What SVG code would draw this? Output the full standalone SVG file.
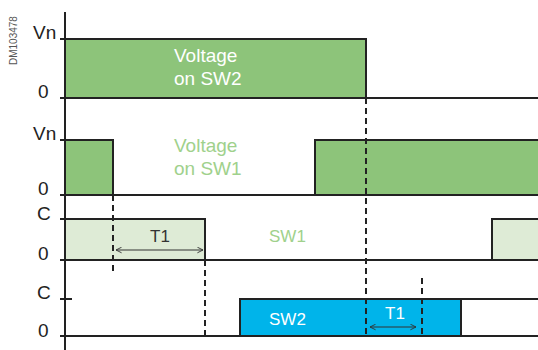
<svg xmlns="http://www.w3.org/2000/svg" width="538" height="350" viewBox="0 0 538 350">
<defs>
<marker id="ah" viewBox="0 0 10 10" refX="9" refY="5" markerWidth="7" markerHeight="7" orient="auto-start-reverse" markerUnits="userSpaceOnUse">
<path d="M1,1 L9,5 L1,9" fill="none" stroke="#333" stroke-width="1.3"/>
</marker>
</defs>
<style>
.ln{stroke:#222;stroke-width:2;fill:none}
.sig{stroke:#222;stroke-width:2}
.dash{stroke:#222;stroke-width:2;stroke-dasharray:6 4;fill:none}
.lbl{font-family:"Liberation Sans",Arial,sans-serif;font-size:19px;fill:#222}
.t{font-family:"Liberation Sans",Arial,sans-serif}
.arr{stroke:#333;stroke-width:1;fill:none;marker-start:url(#ah);marker-end:url(#ah)}
</style>
<rect width="538" height="350" fill="#fff"/>
<text transform="translate(17,65) rotate(-90)" class="t" font-size="10" fill="#555">DM103478</text>

<g id="axis">
<line class="ln" x1="65" y1="12" x2="65" y2="350"/>
<text class="lbl" x="33" y="39">Vn</text>
<text class="lbl" x="38" y="98">0</text>
<text class="lbl" x="33" y="140">Vn</text>
<text class="lbl" x="38" y="195">0</text>
<text class="lbl" x="37" y="220">C</text>
<text class="lbl" x="38" y="260">0</text>
<text class="lbl" x="37" y="299">C</text>
<text class="lbl" x="38" y="337">0</text>
</g>

<g id="sw2-voltage">
<rect class="sig" x="65" y="39" width="301" height="59" fill="#8dc47a"/>
<line class="ln" x1="60" y1="39" x2="65" y2="39"/>
<line class="ln" x1="60" y1="98" x2="538" y2="98"/>
<text class="t" font-size="19" fill="#fff" x="174" y="62">Voltage</text>
<text class="t" font-size="19" fill="#fff" x="174" y="85">on SW2</text>
</g>

<g id="sw1-voltage">
<rect class="sig" x="65" y="140" width="48" height="55" fill="#8dc47a"/>
<rect class="sig" x="315" y="140" width="230" height="55" fill="#8dc47a"/>
<line class="ln" x1="60" y1="140" x2="65" y2="140"/>
<line class="ln" x1="60" y1="195" x2="538" y2="195"/>
<text class="t" font-size="19" fill="#a0d18c" x="174" y="152">Voltage</text>
<text class="t" font-size="19" fill="#a0d18c" x="174" y="175">on SW1</text>
</g>

<g id="sw1">
<rect class="sig" x="65" y="219" width="140" height="41" fill="#deebd6"/>
<rect class="sig" x="492" y="219" width="60" height="41" fill="#deebd6"/>
<line class="ln" x1="60" y1="219" x2="65" y2="219"/>
<line class="ln" x1="60" y1="260" x2="538" y2="260"/>
<text class="t" font-size="17" fill="#a0d18c" x="269" y="242">SW1</text>
</g>

<g id="sw2">
<rect class="sig" x="240" y="299" width="221" height="37" fill="#00b4ea"/>
<line class="ln" x1="461" y1="299" x2="538" y2="299"/>
<line class="ln" x1="60" y1="299" x2="72" y2="299"/>
<line class="ln" x1="60" y1="336" x2="538" y2="336"/>
<text class="t" font-size="17" fill="#fff" x="269" y="325">SW2</text>
</g>

<g id="connectors">
<line class="dash" x1="113" y1="195" x2="113" y2="272"/>
<line class="dash" x1="205" y1="260" x2="205" y2="336"/>
<line class="dash" x1="366" y1="98" x2="366" y2="336"/>
<line class="dash" x1="422" y1="278" x2="422" y2="336"/>
<line class="arr" x1="116" y1="250" x2="203" y2="250"/>
<line class="arr" x1="370" y1="327" x2="416" y2="327"/>
</g>
<text class="t" font-size="17" fill="#333" x="150" y="242">T1</text>
<text class="t" font-size="17" fill="#fff" x="385" y="319">T1</text>
</svg>
